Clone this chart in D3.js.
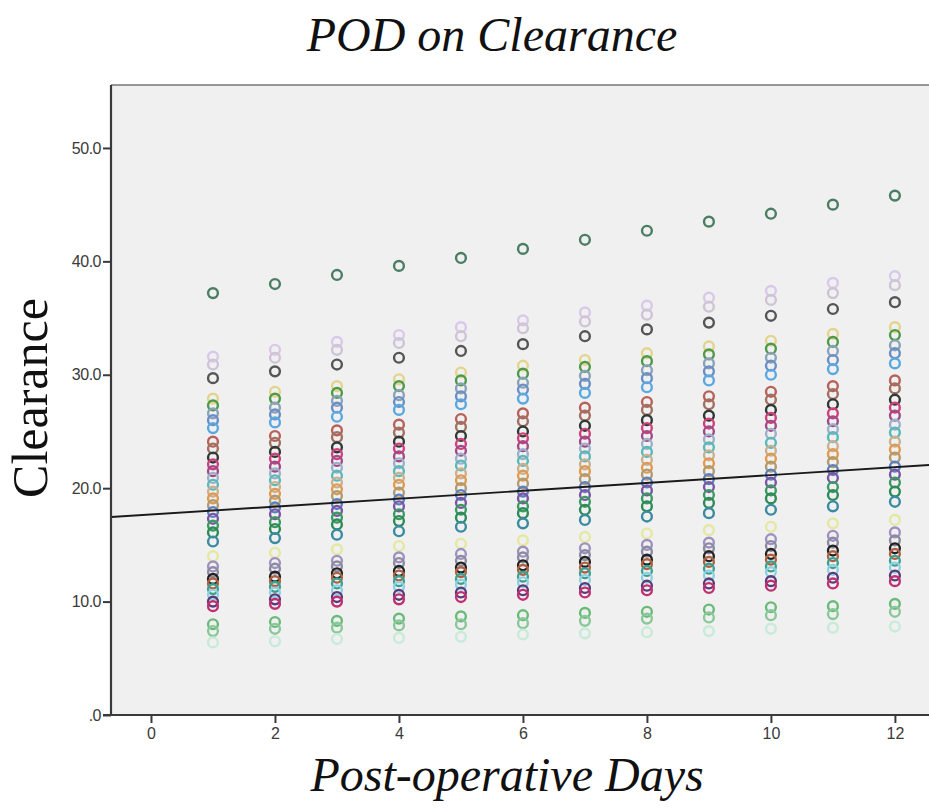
<!DOCTYPE html>
<html>
<head>
<meta charset="utf-8">
<script src="https://cdn.jsdelivr.net/npm/d3@7"></script>
<style>
  body { margin: 0; background: #fff; }
  svg { display: block; }
</style>
</head>
<body>
<div id="chart"></div>
<script>
// days on the x axis
const days = [1, 2, 3, 4, 5, 6, 7, 8, 9, 10, 11, 12];

// one row of clearance values per patient (day 1 .. day 12)
const patients = [
  "p01", "p02", "p03", "p04", "p05", "p06", "p07", "p08", "p09", "p10", "p11", "p12",
  "p13", "p14", "p15", "p16", "p17", "p18", "p19", "p20", "p21", "p22", "p23", "p24",
  "p25", "p26", "p27", "p28", "p29", "p30", "p31", "p32", "p33", "p34", "p35", "p36"
];
const clearance = [
  [37.2, 38.0, 38.8, 39.6, 40.3, 41.1, 41.9, 42.7, 43.5, 44.2, 45.0, 45.8],
  [31.6, 32.2, 32.9, 33.5, 34.2, 34.8, 35.5, 36.1, 36.8, 37.4, 38.1, 38.7],
  [30.9, 31.5, 32.2, 32.8, 33.4, 34.1, 34.7, 35.3, 36.0, 36.6, 37.2, 37.9],
  [29.7, 30.3, 30.9, 31.5, 32.1, 32.7, 33.4, 34.0, 34.6, 35.2, 35.8, 36.4],
  [27.9, 28.5, 29.0, 29.6, 30.2, 30.8, 31.3, 31.9, 32.5, 33.0, 33.6, 34.2],
  [27.3, 27.9, 28.4, 29.0, 29.5, 30.1, 30.7, 31.2, 31.8, 32.3, 32.9, 33.5],
  [26.6, 27.1, 27.7, 28.2, 28.8, 29.3, 29.9, 30.4, 31.0, 31.5, 32.1, 32.6],
  [26.0, 26.5, 27.1, 27.6, 28.1, 28.7, 29.2, 29.7, 30.3, 30.8, 31.3, 31.9],
  [25.3, 25.8, 26.3, 26.9, 27.4, 27.9, 28.4, 28.9, 29.5, 30.0, 30.5, 31.0],
  [24.1, 24.6, 25.1, 25.6, 26.1, 26.6, 27.1, 27.6, 28.1, 28.5, 29.0, 29.5],
  [23.5, 24.0, 24.5, 24.9, 25.4, 25.9, 26.4, 26.9, 27.4, 27.8, 28.3, 28.8],
  [22.7, 23.2, 23.6, 24.1, 24.6, 25.0, 25.5, 26.0, 26.4, 26.9, 27.4, 27.8],
  [22.1, 22.6, 23.0, 23.5, 23.9, 24.4, 24.8, 25.3, 25.7, 26.2, 26.6, 27.1],
  [21.5, 21.9, 22.4, 22.8, 23.3, 23.7, 24.1, 24.6, 25.0, 25.5, 25.9, 26.4],
  [20.9, 21.3, 21.8, 22.2, 22.6, 23.0, 23.5, 23.9, 24.3, 24.8, 25.2, 25.6],
  [20.3, 20.7, 21.1, 21.5, 22.0, 22.4, 22.8, 23.2, 23.6, 24.0, 24.5, 24.9],
  [19.7, 20.1, 20.5, 20.9, 21.3, 21.7, 22.1, 22.5, 22.9, 23.3, 23.7, 24.1],
  [19.1, 19.5, 19.9, 20.3, 20.7, 21.1, 21.5, 21.8, 22.2, 22.6, 23.0, 23.4],
  [18.5, 18.9, 19.3, 19.6, 20.0, 20.4, 20.8, 21.2, 21.5, 21.9, 22.3, 22.7],
  [17.9, 18.3, 18.6, 19.0, 19.4, 19.7, 20.1, 20.5, 20.8, 21.2, 21.6, 21.9],
  [17.3, 17.7, 18.0, 18.4, 18.7, 19.1, 19.4, 19.8, 20.1, 20.5, 20.9, 21.2],
  [16.7, 17.0, 17.4, 17.7, 18.1, 18.4, 18.8, 19.1, 19.4, 19.8, 20.1, 20.5],
  [16.1, 16.4, 16.8, 17.1, 17.4, 17.8, 18.1, 18.4, 18.7, 19.1, 19.4, 19.7],
  [15.3, 15.6, 15.9, 16.2, 16.6, 16.9, 17.2, 17.5, 17.8, 18.1, 18.4, 18.8],
  [14.0, 14.3, 14.6, 14.9, 15.1, 15.4, 15.7, 16.0, 16.3, 16.6, 16.9, 17.2],
  [13.1, 13.4, 13.6, 13.9, 14.2, 14.4, 14.7, 15.0, 15.2, 15.5, 15.8, 16.1],
  [12.6, 12.9, 13.1, 13.4, 13.6, 13.9, 14.1, 14.4, 14.7, 14.9, 15.2, 15.4],
  [12.0, 12.2, 12.5, 12.7, 13.0, 13.2, 13.5, 13.7, 14.0, 14.2, 14.5, 14.7],
  [11.6, 11.8, 12.1, 12.3, 12.6, 12.8, 13.0, 13.3, 13.5, 13.7, 14.0, 14.2],
  [11.1, 11.3, 11.6, 11.8, 12.0, 12.2, 12.5, 12.7, 12.9, 13.1, 13.4, 13.6],
  [10.6, 10.8, 11.0, 11.3, 11.5, 11.7, 11.9, 12.1, 12.3, 12.6, 12.8, 13.0],
  [10.0, 10.2, 10.4, 10.6, 10.8, 11.0, 11.2, 11.4, 11.6, 11.8, 12.1, 12.3],
  [9.6, 9.8, 10.0, 10.2, 10.4, 10.6, 10.8, 11.0, 11.2, 11.4, 11.6, 11.8],
  [8.0, 8.2, 8.3, 8.5, 8.7, 8.8, 9.0, 9.1, 9.3, 9.5, 9.6, 9.8],
  [7.4, 7.6, 7.7, 7.9, 8.0, 8.1, 8.3, 8.5, 8.6, 8.8, 8.9, 9.1],
  [6.4, 6.5, 6.7, 6.8, 6.9, 7.1, 7.2, 7.3, 7.4, 7.6, 7.7, 7.8]
];
const patientColors = [
  "#4a7d63", "#d9c8ea", "#cfc3d6", "#555555", "#e3d48c", "#4f9a4a",
  "#8aa2b8", "#6b8fc4", "#5aa8e0", "#b8605a", "#a07060", "#2d3a35",
  "#d0407a", "#a04a88", "#9cb0c8", "#59b8b8", "#c8b090", "#e09a50",
  "#b09a70", "#5a80c0", "#7a55a5", "#3a9a60", "#2e8a58", "#3a8aa0",
  "#e4e8a0", "#a090c0", "#8a8aa0", "#222222", "#b06040", "#3aa090",
  "#8ed0e0", "#5a3a7a", "#c03070", "#6abb7a", "#8ac89a", "#c8ead8"
];

// fit line as drawn in the picture
const fitIntercept = 17.68;
const fitSlope = 0.348;

const xTicks = [0, 2, 4, 6, 8, 10, 12];
const yTicks = [0, 10, 20, 30, 40, 50];

const width = 929, height = 808;
const margin = { top: 85, right: 0, bottom: 93, left: 111 };
const innerW = width - margin.left - margin.right;
const innerH = height - margin.top - margin.bottom;

const svg = d3.select("#chart").append("svg")
  .attr("width", width)
  .attr("height", height);

const x = d3.scaleLinear().domain([-0.645, 12.55]).range([0, innerW]);
const y = d3.scaleLinear().domain([0, 55.55]).range([innerH, 0]);

const g = svg.append("g")
  .attr("transform", "translate(" + margin.left + "," + margin.top + ")");

g.append("rect")
  .attr("width", innerW)
  .attr("height", innerH)
  .attr("fill", "#f0f0f0");

g.append("clipPath").attr("id", "clip")
  .append("rect").attr("width", innerW).attr("height", innerH);

// top frame line
g.append("line")
  .attr("x1", 0).attr("x2", innerW)
  .attr("y1", 0).attr("y2", 0)
  .attr("stroke", "#777").attr("stroke-width", 1.5);

// points, one group per patient
const points = [];
clearance.forEach(function(row, i) {
  row.forEach(function(v, j) {
    points.push({ id: patients[i], day: days[j], value: v, color: patientColors[i] });
  });
});

g.append("g")
  .attr("clip-path", "url(#clip)")
  .selectAll("circle")
  .data(points)
  .enter()
  .append("circle")
  .attr("cx", d => x(d.day))
  .attr("cy", d => y(d.value))
  .attr("r", 4.9)
  .attr("fill", "none")
  .attr("stroke", d => d.color)
  .attr("stroke-width", 2.4);

// fit line
const xd = x.domain();
g.append("line")
  .attr("clip-path", "url(#clip)")
  .attr("x1", x(xd[0])).attr("y1", y(fitIntercept + fitSlope * xd[0]))
  .attr("x2", x(xd[1])).attr("y2", y(fitIntercept + fitSlope * xd[1]))
  .attr("stroke", "#1a1a1a")
  .attr("stroke-width", 1.9);

// axes
const yAxis = d3.axisLeft(y)
  .tickValues(yTicks)
  .tickSize(8)
  .tickPadding(2)
  .tickFormat(d => d === 0 ? ".0" : d3.format(".1f")(d));

const xAxis = d3.axisBottom(x)
  .tickValues(xTicks)
  .tickSize(8)
  .tickPadding(5)
  .tickFormat(d3.format("d"));

const ya = g.append("g").call(yAxis);
const xa = g.append("g").attr("transform", "translate(0," + innerH + ")").call(xAxis);

[ya, xa].forEach(function(a) {
  a.select(".domain").attr("stroke", "#3a3a3a").attr("stroke-width", 2.2);
  a.selectAll(".tick line").attr("stroke", "#3a3a3a").attr("stroke-width", 2);
  a.selectAll(".tick text")
    .attr("fill", "#3a3a3a")
    .style("font-family", "Arial, 'Liberation Sans', sans-serif")
    .style("font-size", "16px");
});
ya.selectAll(".tick text").style("letter-spacing", "-0.5px");
ya.select(".domain").attr("d", "M0," + innerH + "V0");
xa.select(".domain").attr("d", "M-8,0H" + innerW);

// titles
svg.append("text")
  .attr("x", 492).attr("y", 51)
  .attr("text-anchor", "middle")
  .style("font-family", "'Liberation Serif', 'Times New Roman', serif")
  .style("font-style", "italic")
  .style("font-size", "48px")
  .attr("fill", "#111")
  .text("POD on Clearance");

svg.append("text")
  .attr("x", 507).attr("y", 791)
  .attr("text-anchor", "middle")
  .style("font-family", "'Liberation Serif', 'Times New Roman', serif")
  .style("font-style", "italic")
  .style("font-size", "48px")
  .attr("fill", "#111")
  .text("Post-operative Days");

svg.append("text")
  .attr("transform", "translate(47,398) rotate(-90)")
  .attr("text-anchor", "middle")
  .style("font-family", "'Liberation Serif', 'Times New Roman', serif")
  .style("font-size", "50px")
  .attr("fill", "#111")
  .text("Clearance");
</script>
</body>
</html>
